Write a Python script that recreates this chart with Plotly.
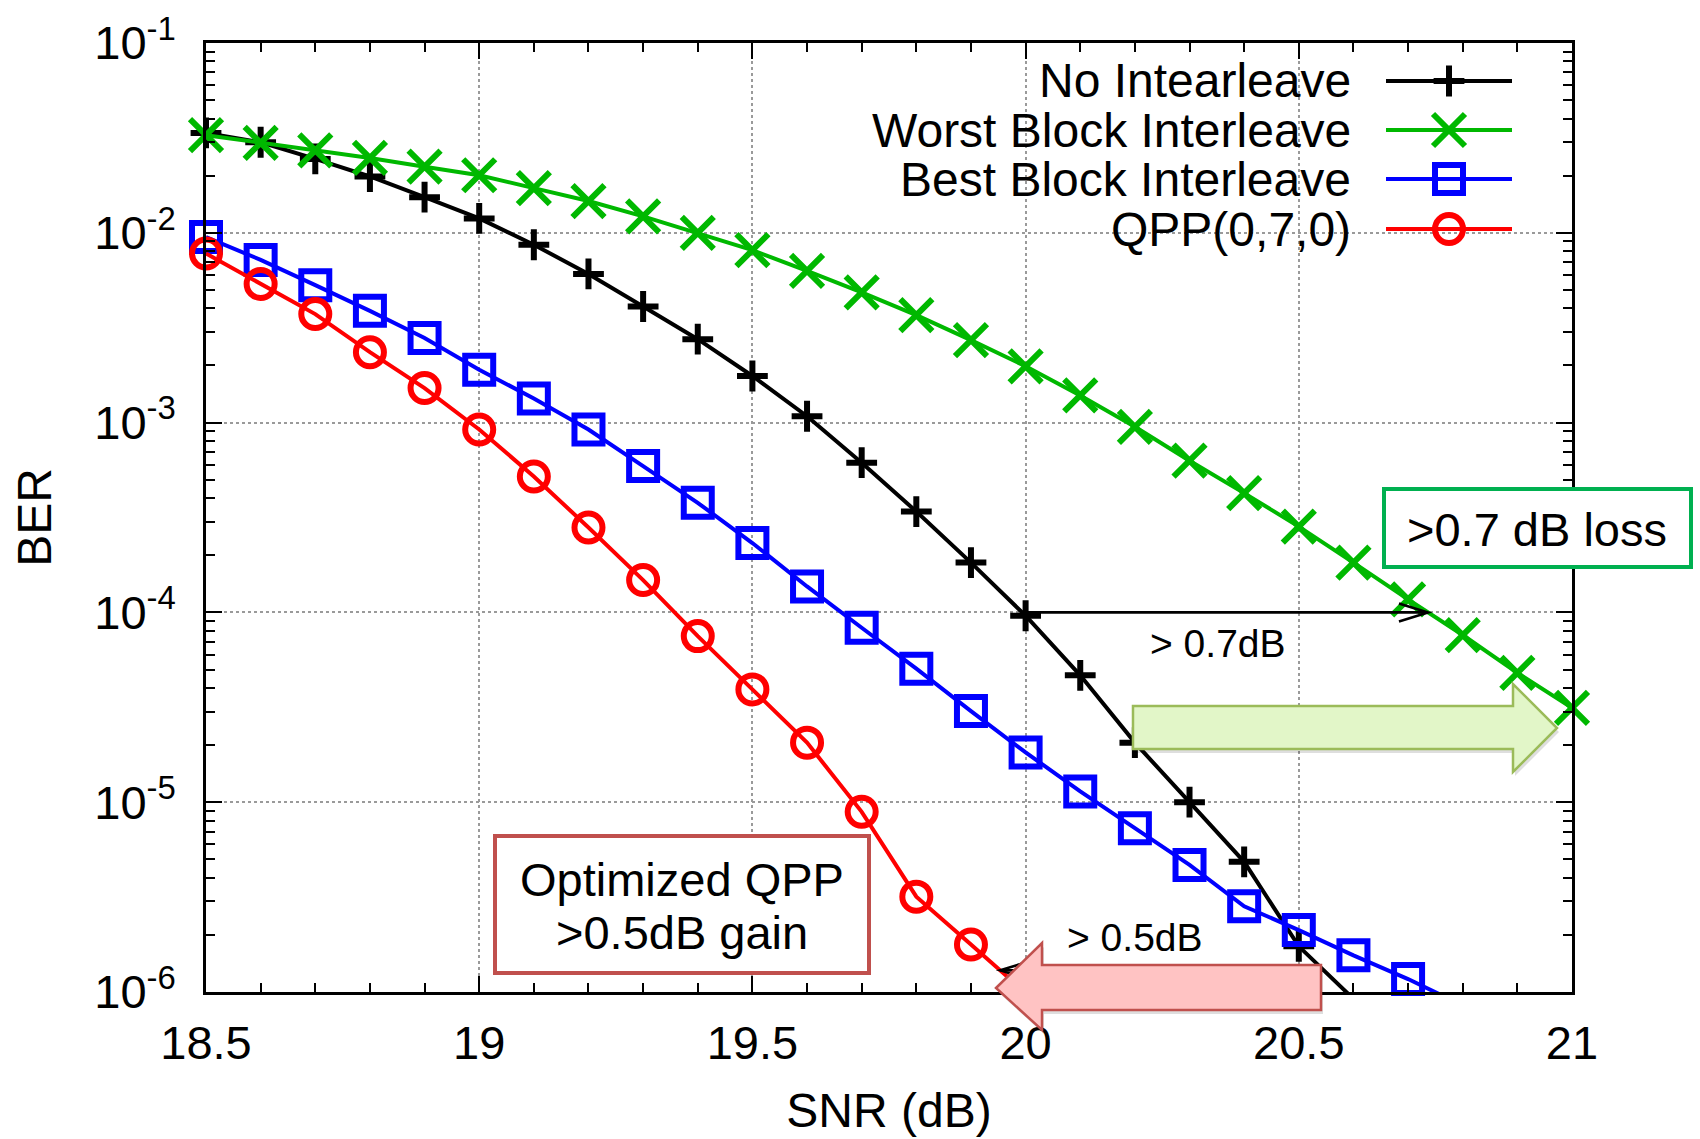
import numpy as np
import plotly.graph_objects as go

# ---------------- data ----------------
snr_no_inter = [18.5, 18.6, 18.7, 18.8, 18.9, 19.0, 19.1, 19.2, 19.3, 19.4, 19.5,
                19.6, 19.7, 19.8, 19.9, 20.0, 20.1, 20.2, 20.3, 20.4, 20.5, 20.6]
ber_no_inter = [0.0336, 0.030, 0.0245, 0.0198, 0.0154, 0.0119, 0.00865, 0.00607, 0.00409,
                0.00275, 0.00176, 0.00108, 6.15e-4, 3.4e-4, 1.83e-4, 9.6e-5, 4.66e-5,
                2.06e-5, 1.0e-5, 4.85e-6, 1.74e-6, 9.2e-7]

snr_worst = [18.5, 18.6, 18.7, 18.8, 18.9, 19.0, 19.1, 19.2, 19.3, 19.4, 19.5, 19.6, 19.7,
             19.8, 19.9, 20.0, 20.1, 20.2, 20.3, 20.4, 20.5, 20.6, 20.7, 20.8, 20.9, 21.0]
ber_worst = [0.0327, 0.0298, 0.0272, 0.0248, 0.0223, 0.0201, 0.0172, 0.0147, 0.0122, 0.0100,
             0.0081, 0.0063, 0.00485, 0.00368, 0.00272, 0.00198, 0.00139, 9.5e-4, 6.3e-4,
             4.25e-4, 2.83e-4, 1.83e-4, 1.17e-4, 7.6e-5, 4.8e-5, 3.14e-5]

snr_best = [18.5, 18.6, 18.7, 18.8, 18.9, 19.0, 19.1, 19.2, 19.3, 19.4, 19.5, 19.6, 19.7,
            19.8, 19.9, 20.0, 20.1, 20.2, 20.3, 20.4, 20.5, 20.6, 20.7, 20.8]
ber_best = [0.0095, 0.0072, 0.0053, 0.00388, 0.00279, 0.0019, 0.00134, 9.2e-4, 5.9e-4,
            3.78e-4, 2.32e-4, 1.37e-4, 8.3e-5, 5.05e-5, 3.02e-5, 1.83e-5, 1.14e-5, 7.3e-6,
            4.67e-6, 2.83e-6, 2.12e-6, 1.56e-6, 1.17e-6, 8.5e-7]

snr_qpp = [18.5, 18.6, 18.7, 18.8, 18.9, 19.0, 19.1, 19.2, 19.3, 19.4, 19.5, 19.6, 19.7,
           19.8, 19.9, 20.0]
ber_qpp = [0.00778, 0.00538, 0.00373, 0.00235, 0.00152, 9.2e-4, 5.2e-4, 2.8e-4, 1.48e-4,
           7.5e-5, 3.93e-5, 2.06e-5, 8.9e-6, 3.18e-6, 1.78e-6, 9.9e-7]

series_names = ["No Intearleave", "Worst Block Interleave", "Best Block Interleave", "QPP(0,7,0)"]

x_ticks = [18.5, 19.0, 19.5, 20.0, 20.5, 21.0]
x_ticktext = ["18.5", "19", "19.5", "20", "20.5", "21"]
y_ticks = [1e-6, 1e-5, 1e-4, 1e-3, 1e-2, 1e-1]
y_ticktext = ["10<sup>-6</sup>", "10<sup>-5</sup>", "10<sup>-4</sup>",
              "10<sup>-3</sup>", "10<sup>-2</sup>", "10<sup>-1</sup>"]

level_07 = 1e-4    # BER level of the "> 0.7dB" arrow
level_05 = 1.3e-6  # BER level of the "> 0.5dB" arrow

# ---------------- styling ----------------
FONT = "Liberation Sans, Arial, Helvetica, sans-serif"
W, H = 1700, 1139
L, R, T, B = 206, 1572, 43, 992
XMIN, XMAX = 18.5, 21.0
YMIN, YMAX = 1e-6, 1e-1

colors = ["#000000", "#00B800", "#0000FF", "#FF0000"]
symbols = ["cross-thin", "x-thin", "square-open", "circle-open"]
msizes = [22, 32, 28, 28]
LW = 4.0
MLW = 6.0


def px(x):
    return (x - L) / (R - L)


def py(y):
    return (B - y) / (B - T)


def path(points):
    return "M " + " L ".join(f"{px(a):.5f},{py(b):.5f}" for a, b in points) + " Z"


def crossing(snr, ber, level):
    lb = np.log10(np.asarray(ber))
    return float(np.interp(np.log10(level), lb[::-1], np.asarray(snr)[::-1]))


fig = go.Figure()

data = [(snr_no_inter, ber_no_inter), (snr_worst, ber_worst),
        (snr_best, ber_best), (snr_qpp, ber_qpp)]

for (x, y), name, c, sym, ms in zip(data, series_names, colors, symbols, msizes):
    fig.add_trace(go.Scatter(
        x=x, y=y, mode="lines+markers", name=name, showlegend=False, cliponaxis=False,
        line=dict(color=c, width=LW),
        marker=dict(symbol=sym, color=c, opacity=1,
                    size=[ms if v >= YMIN else 0 for v in y],
                    line=dict(color=c, width=MLW)),
    ))

# ------------- custom legend (text right, sample on the right) -------------
leg_rows = [81, 130, 179, 229]
leg_x0, leg_x1, leg_xm = px(1386), px(1512), px(1449)
leg_text_right = 1353
annotations = []
for name, c, sym, ms, ry in zip(series_names, colors, symbols, msizes, leg_rows):
    fig.add_trace(go.Scatter(
        x=[leg_x0, leg_xm, leg_x1], y=[py(ry)] * 3, xaxis="x2", yaxis="y2",
        mode="lines+markers", showlegend=False, hoverinfo="skip", cliponaxis=False,
        line=dict(color=c, width=LW),
        marker=dict(symbol=sym, color=c, opacity=1, size=[0, ms, 0],
                    line=dict(color=c, width=MLW)),
    ))
    annotations.append(dict(
        x=px(leg_text_right), y=py(ry), xref="paper", yref="paper", text=name,
        showarrow=False, xanchor="right", yanchor="middle",
        font=dict(family=FONT, size=48, color="black")))

# ------------- annotation arrows / boxes -------------
x07_start = crossing(snr_no_inter, ber_no_inter, level_07)
x07_end = crossing(snr_worst, ber_worst, level_07)
x05_start = crossing(snr_no_inter, ber_no_inter, level_05)
x05_end = crossing(snr_qpp, ber_qpp, level_05)

shapes = [
    # opaque legend background
    dict(type="rect", xref="paper", yref="paper", x0=px(862), x1=px(1527),
         y0=py(254), y1=py(52), fillcolor="white", line=dict(width=0), layer="between"),
    # black "> 0.7dB" arrow
    dict(type="line", xref="x", yref="y", x0=x07_start, x1=x07_end, y0=level_07, y1=level_07,
         line=dict(color="black", width=2.6), layer="above"),
    dict(type="path", xref="x", yref="y", xsizemode="pixel", ysizemode="pixel",
         xanchor=x07_end, yanchor=level_07, path="M -29,-9 L 0,0 L -29,9",
         line=dict(color="black", width=2.6), layer="above"),
    # black "> 0.5dB" arrow (mostly hidden under pink block arrow)
    dict(type="line", xref="x", yref="y", x0=x05_start, x1=x05_end, y0=level_05, y1=level_05,
         line=dict(color="black", width=2.6), layer="above"),
    dict(type="path", xref="x", yref="y", xsizemode="pixel", ysizemode="pixel",
         xanchor=x05_end, yanchor=level_05, path="M 29,-9 L 0,0 L 29,9",
         line=dict(color="black", width=2.6), layer="above"),
]

green_arrow = [(1133, 706), (1513, 706), (1513, 684), (1557, 728), (1513, 772), (1513, 749), (1133, 749)]
pink_arrow = [(996, 988), (1042, 943), (1042, 965), (1321, 965), (1321, 1010), (1042, 1010), (1042, 1030)]

for pts, fill, edge in [(green_arrow, "#E2F6C8", "#9BBB59"), (pink_arrow, "#FFC3C3", "#C0504D")]:
    shapes.append(dict(type="path", xref="paper", yref="paper",
                       path=path([(a + 2, b + 4) for a, b in pts]),
                       fillcolor="rgba(0,0,0,0.13)", line=dict(width=0), layer="above"))
    shapes.append(dict(type="path", xref="paper", yref="paper", path=path(pts),
                       fillcolor=fill, line=dict(color=edge, width=2.5), layer="above"))

# text boxes
shapes.append(dict(type="rect", xref="paper", yref="paper", x0=px(1384), x1=px(1691),
                   y0=py(567), y1=py(489), fillcolor="white",
                   line=dict(color="#00B050", width=4), layer="above"))
shapes.append(dict(type="rect", xref="paper", yref="paper", x0=px(495), x1=px(869),
                   y0=py(973), y1=py(836), fillcolor="white",
                   line=dict(color="#C0504D", width=4), layer="above"))


def label(xc, yc, text, size):
    return dict(x=px(xc), y=py(yc), xref="paper", yref="paper", text=text,
                showarrow=False, xanchor="center", yanchor="middle",
                font=dict(family=FONT, size=size, color="black"))


annotations += [
    label(1537, 529, ">0.7 dB loss", 47),
    label(682, 879, "Optimized QPP", 47),
    label(682, 932, ">0.5dB gain", 47),
    label(1218, 643, "> 0.7dB", 39),
    label(1135, 937, "> 0.5dB", 39),
]

axis_common = dict(
    ticks="inside", ticklen=16, tickwidth=2, tickcolor="black",
    showline=True, linecolor="black", linewidth=2.5, mirror="allticks",
    showgrid=True, gridcolor="#9a9a9a", griddash="dot", gridwidth=1.5,
    zeroline=False, automargin=False,
    tickfont=dict(family=FONT, size=47, color="black"),
)

fig.update_layout(
    width=W, height=H,
    margin=dict(l=L, r=W - R, t=T, b=H - B, autoexpand=False),
    plot_bgcolor="white", paper_bgcolor="white",
    font=dict(family=FONT, size=46, color="black"),
    showlegend=False,
    xaxis=dict(
        range=[XMIN, XMAX], tickmode="array", tickvals=x_ticks, ticktext=x_ticktext,
        ticklabelstandoff=8,
        minor=dict(ticks="inside", ticklen=9, tickwidth=1.5, tickcolor="black",
                   dtick=0.1, tick0=18.5, showgrid=False),
        title=dict(text="SNR (dB)", font=dict(family=FONT, size=48), standoff=26),
        **axis_common),
    yaxis=dict(
        type="log", range=[np.log10(YMIN), np.log10(YMAX)], tickmode="array",
        tickvals=y_ticks, ticktext=y_ticktext, ticklabelstandoff=18,
        minor=dict(ticks="inside", ticklen=9, tickwidth=1.5, tickcolor="black",
                   dtick="D1", showgrid=False),
        title=dict(text="BER", font=dict(family=FONT, size=48), standoff=28),
        **axis_common),
    xaxis2=dict(overlaying="x", anchor="y2", range=[0, 1], visible=False, fixedrange=True),
    yaxis2=dict(overlaying="y", anchor="x2", range=[0, 1], visible=False, fixedrange=True),
    shapes=shapes,
    annotations=annotations,
)

fig.write_html("out.html")
